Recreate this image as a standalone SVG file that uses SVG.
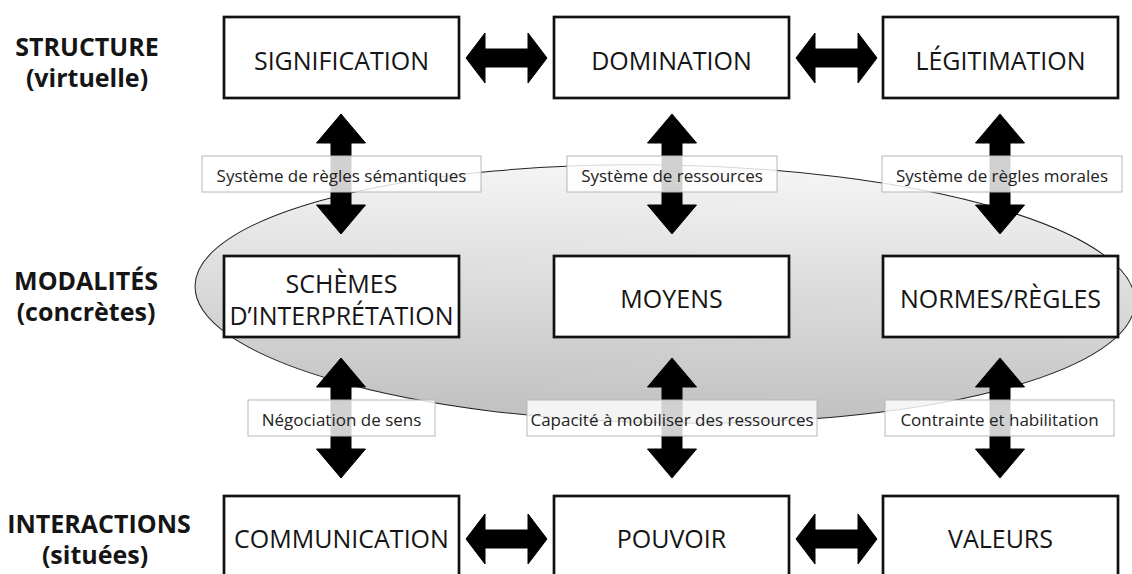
<svg xmlns="http://www.w3.org/2000/svg" xmlns:xlink="http://www.w3.org/1999/xlink" width="1132" height="574" viewBox="0 0 1132 574">
<style>
.box{fill:#fff;stroke:#111;stroke-width:2.7}
.bt{font-family:"Open Sans","Liberation Sans",sans-serif;font-size:25px;fill:#151515;text-anchor:middle}
.tt{font-family:"Open Sans","Liberation Sans",sans-serif;font-size:25px;font-weight:bold;fill:#151515;text-anchor:middle}
.lb{fill:#fff;fill-opacity:0.82;stroke:#b8b8b8;stroke-width:1}
.lt{font-family:"Open Sans","Liberation Sans",sans-serif;font-size:17px;fill:#222;text-anchor:middle}
.ar{fill:#000;stroke:#000;stroke-width:1;stroke-linejoin:round}
</style>
<defs>
<linearGradient id="eg" x1="0" y1="0" x2="0" y2="1">
<stop offset="0" stop-color="#f5f5f5"/>
<stop offset="1" stop-color="#c0c0c0"/>
</linearGradient>
<path id="va" d="M0,0 L24.5,29 L10,29 L10,91 L24.5,91 L0,120 L-24.5,91 L-10,91 L-10,29 L-24.5,29 Z"/>
<path id="ha" d="M0,0 L19,-25 L19,-9 L62,-9 L62,-25 L81,0 L62,25 L62,9 L19,9 L19,25 Z"/>
</defs>
<rect width="1132" height="574" fill="#fff"/>

<g id="modalites-zone">
<ellipse cx="665" cy="294" rx="470" ry="129" transform="rotate(1 665 294)" fill="url(#eg)" stroke="#222" stroke-width="1"/>
</g>

<g id="titles">
<text class="tt" x="87" y="56">STRUCTURE</text>
<text class="tt" x="87" y="87">(virtuelle)</text>
<text class="tt" x="86" y="290">MODALITÉS</text>
<text class="tt" x="86" y="321">(concrètes)</text>
<text class="tt" x="99" y="533">INTERACTIONS</text>
<text class="tt" x="95" y="564">(situées)</text>
</g>

<g id="signification"><rect class="box" x="224" y="17" width="235" height="81"/><text class="bt" x="341.5" y="70">SIGNIFICATION</text></g>
<g id="domination"><rect class="box" x="554" y="17" width="235" height="81"/><text class="bt" x="671.5" y="70">DOMINATION</text></g>
<g id="legitimation"><rect class="box" x="883" y="17" width="235" height="81"/><text class="bt" x="1000.5" y="70">LÉGITIMATION</text></g>

<g id="schemes"><rect class="box" x="224" y="256" width="235" height="81"/><text class="bt" x="341.5" y="293">SCHÈMES</text><text class="bt" x="341.5" y="325">D’INTERPRÉTATION</text></g>
<g id="moyens"><rect class="box" x="554" y="256" width="235" height="81"/><text class="bt" x="671.5" y="308">MOYENS</text></g>
<g id="normes"><rect class="box" x="883" y="256" width="235" height="81"/><text class="bt" x="1000.5" y="308">NORMES/RÈGLES</text></g>

<g id="communication"><rect class="box" x="224" y="496" width="235" height="81"/><text class="bt" x="341.5" y="548">COMMUNICATION</text></g>
<g id="pouvoir"><rect class="box" x="554" y="496" width="235" height="81"/><text class="bt" x="671.5" y="548">POUVOIR</text></g>
<g id="valeurs"><rect class="box" x="883" y="496" width="235" height="81"/><text class="bt" x="1000.5" y="548">VALEURS</text></g>

<g id="connectors">
<use xlink:href="#ha" href="#ha" class="ar" x="466" y="58"/>
<use xlink:href="#ha" href="#ha" class="ar" x="796" y="58"/>
<use xlink:href="#ha" href="#ha" class="ar" x="466" y="539"/>
<use xlink:href="#ha" href="#ha" class="ar" x="796" y="539"/>
<use xlink:href="#va" href="#va" class="ar" x="341" y="114"/>
<use xlink:href="#va" href="#va" class="ar" x="672" y="114"/>
<use xlink:href="#va" href="#va" class="ar" x="1000" y="114"/>
<use xlink:href="#va" href="#va" class="ar" x="341" y="358"/>
<use xlink:href="#va" href="#va" class="ar" x="672" y="358"/>
<use xlink:href="#va" href="#va" class="ar" x="1000" y="358"/>
</g>

<g id="labels">
<rect class="lb" x="202" y="156" width="279" height="36"/><text class="lt" x="341.5" y="182">Système de règles sémantiques</text>
<rect class="lb" x="567" y="156" width="210" height="36"/><text class="lt" x="672" y="182">Système de ressources</text>
<rect class="lb" x="882" y="156" width="240" height="36"/><text class="lt" x="1002" y="182">Système de règles morales</text>
<rect class="lb" x="248" y="400" width="187" height="36"/><text class="lt" x="341.5" y="426">Négociation de sens</text>
<rect class="lb" x="527" y="400" width="290" height="36"/><text class="lt" x="672" y="426">Capacité à mobiliser des ressources</text>
<rect class="lb" x="885" y="400" width="229" height="36"/><text class="lt" x="999.5" y="426">Contrainte et habilitation</text>
</g>
</svg>
